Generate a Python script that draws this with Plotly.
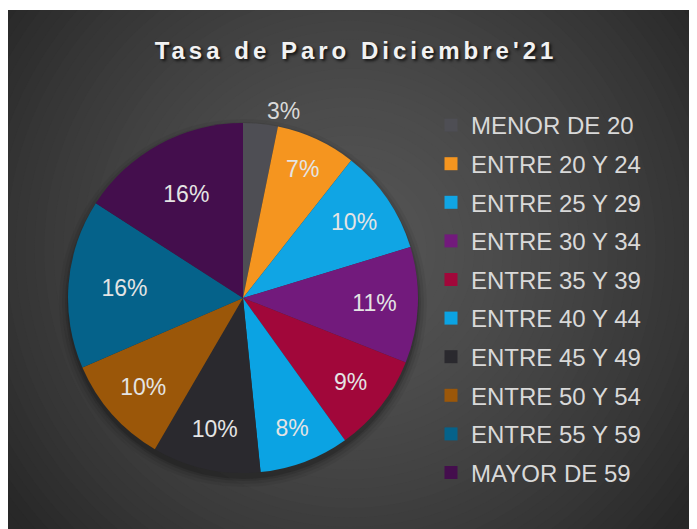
import plotly.graph_objects as go

# ---- data ----
labels = ["MENOR DE 20", "ENTRE 20 Y 24", "ENTRE 25 Y 29", "ENTRE 30 Y 34",
          "ENTRE 35 Y 39", "ENTRE 40 Y 44", "ENTRE 45 Y 49", "ENTRE 50 Y 54",
          "ENTRE 55 Y 59", "MAYOR DE 59"]
values = [3.2, 7.4, 9.7, 10.7, 9.1, 8.3, 10.0, 10.1, 15.6, 15.9]
colors = ["#4e4e54", "#F5951F", "#10A5E4", "#721A7C", "#A1073A",
          "#0BA3E3", "#2A292E", "#9B5709", "#05628A", "#440E4D"]
title_text = "Tasa de Paro Diciembre'21"

W, H = 697, 529
OX, OY = 8, 8  # page offset of the figure


def px_x(x):
    return (x - OX) / W


def px_y(y):
    return 1 - (y - OY) / H


# pie geometry (screen pixels)
pcx, pcy, pr = 243, 298, 175

text_pos = ["outside"] + ["inside"] * (len(values) - 1)

fig = go.Figure()
fig.add_trace(go.Pie(
    labels=labels, values=values, sort=False, direction="clockwise", rotation=0,
    marker=dict(colors=colors, line=dict(width=0)),
    texttemplate="%{percent:.0%}", textposition=text_pos,
    insidetextorientation="horizontal",
    insidetextfont=dict(family="Liberation Sans, Arial, sans-serif", size=23, color="#e4e4e4"),
    outsidetextfont=dict(family="Liberation Sans, Arial, sans-serif", size=23, color="#d9d9d9"),
    showlegend=False, hoverinfo="label+percent",
    domain=dict(x=[px_x(pcx - pr), px_x(pcx + pr)], y=[px_y(pcy + pr), px_y(pcy - pr)]),
))

# legend entries
for lab, col in zip(labels, colors):
    fig.add_trace(go.Scatter(
        x=[None], y=[None], mode="markers", name=lab, legendgroup=lab,
        marker=dict(symbol="square", size=13, color=col, line=dict(width=0)),
        showlegend=True, hoverinfo="skip",
    ))

# background radial gradient
shapes = [dict(type="rect", xref="paper", yref="paper", x0=0, x1=1, y0=0, y1=1,
               fillcolor="#282828", line=dict(width=0), layer="below")]
gcx, gcy, gR = 350, 250, 430
N = 45
for i in range(N):
    r = gR * (1 - i / N)
    t = r / gR
    v = int(round(84 - 44 * t ** 1.5))
    shapes.append(dict(type="circle", xref="paper", yref="paper",
                       x0=px_x(gcx - r), x1=px_x(gcx + r),
                       y0=px_y(gcy + r), y1=px_y(gcy - r),
                       fillcolor=f"rgb({v},{v},{v})", line=dict(width=0), layer="below"))
# soft shadow under the pie
for grow, op in [(9, 0.05), (6, 0.07), (3, 0.10), (1, 0.14)]:
    rr = pr + grow
    oy = 5
    shapes.append(dict(type="circle", xref="paper", yref="paper",
                       x0=px_x(pcx - rr), x1=px_x(pcx + rr),
                       y0=px_y(pcy + oy + rr), y1=px_y(pcy + oy - rr),
                       fillcolor="black", opacity=op, line=dict(width=0), layer="below"))
# thin white strip at the top (frame edge)
shapes.append(dict(type="rect", xref="paper", yref="paper", x0=0, x1=1,
                   y0=px_y(10), y1=1, fillcolor="white", line=dict(width=0), layer="below"))

fig.update_layout(
    width=W, height=H,
    margin=dict(l=0, r=0, t=0, b=0),
    paper_bgcolor="#282828", plot_bgcolor="rgba(0,0,0,0)",
    xaxis=dict(visible=False), yaxis=dict(visible=False),
    shapes=shapes,
    title=dict(text=title_text, x=px_x(356), xanchor="center", y=px_y(51), yanchor="middle",
               xref="paper", yref="paper",
               font=dict(family="Liberation Sans, Arial, sans-serif", size=24, weight="bold",
                         color="#f2f2f2", shadow="2px 2px 3px rgba(0,0,0,0.75)")),
    legend=dict(x=px_x(431), xanchor="left", y=px_y(103), yanchor="top",
                font=dict(family="Liberation Sans, Arial, sans-serif", size=24, color="#d9d9d9"),
                bgcolor="rgba(0,0,0,0)", tracegroupgap=4.4, traceorder="grouped"),
    showlegend=True,
)

post = ("var g=document.getElementById('{plot_id}');"
        "var t=g?g.querySelector('.gtitle'):null;"
        "if(t){t.style.letterSpacing='4px';}")
fig.write_html("out.html", post_script=post)
